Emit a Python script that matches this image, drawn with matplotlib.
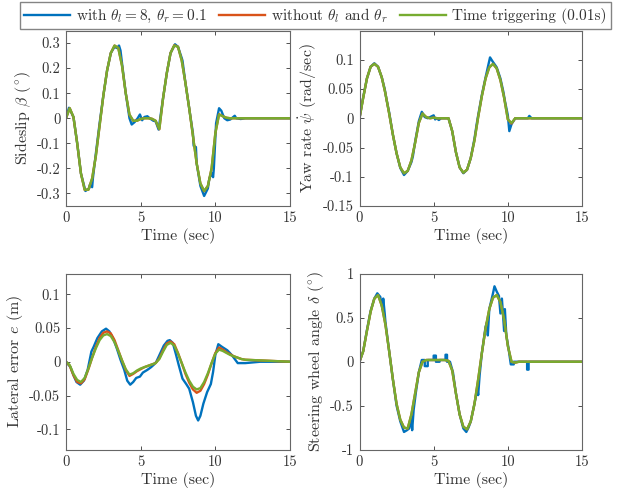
import numpy as np
import matplotlib
matplotlib.use('Agg')
import matplotlib.pyplot as plt
from matplotlib.ticker import FormatStrFormatter

plt.rcParams['font.family'] = 'serif'
plt.rcParams['font.serif'] = ['cmr10']
plt.rcParams['mathtext.fontset'] = 'cm'
plt.rcParams['axes.unicode_minus'] = False

# common time grid for the smooth curves (0..12 s every 0.25 s, then 15 s)
t = np.append(np.arange(0, 12.01, 0.25), 15)

# ---- sideslip beta (deg)
beta_time = [0, 0.04, 0.005, -0.1, -0.22, -0.285, -0.285, -0.24, -0.15, -0.03, 0.09, 0.19,
             0.26, 0.29, 0.28, 0.21, 0.1, 0.015, -0.01, -0.01, -0.003, 0, 0, -0.002,
             -0.01, -0.043, 0.08, 0.18, 0.26, 0.29, 0.285, 0.23, 0.14, 0.04, -0.07, -0.18,
             -0.26, -0.29, -0.27, -0.2, -0.06, 0.015, 0.008, 0.002, 0, 0, 0, 0, 0, 0]
beta_nothr = [0, 0.04, 0.004, -0.1, -0.22, -0.286, -0.285, -0.24, -0.15, -0.03, 0.09, 0.19,
              0.26, 0.29, 0.281, 0.21, 0.1, 0.014, -0.01, -0.01, -0.003, 0, 0, -0.002,
              -0.01, -0.044, 0.08, 0.18, 0.26, 0.291, 0.285, 0.23, 0.14, 0.04, -0.07, -0.18,
              -0.26, -0.291, -0.27, -0.2, -0.06, 0.016, 0.008, 0.002, 0, 0, 0, 0, 0, 0]
t_beta_evt = [0, 0.2, 0.5, 0.75, 1, 1.3, 1.55, 1.6, 1.75, 1.8, 2, 2.25, 2.5, 2.75, 3, 3.25,
              3.4, 3.55, 3.65, 3.75, 4, 4.25, 4.4, 4.6, 4.8, 4.95, 5.1, 5.25, 5.45, 5.6,
              5.85, 6.0, 6.2, 6.5, 6.75, 7.0, 7.3, 7.5, 7.75, 7.8, 8.0, 8.25, 8.5, 8.55,
              8.7, 8.75, 9.0, 9.25, 9.5, 9.6, 9.75, 9.85, 9.9, 10.05, 10.25, 10.4, 10.6,
              10.8, 11.0, 11.3, 11.4, 11.7, 12, 15]
beta_evt = [0, 0.042, 0.005, -0.1, -0.22, -0.29, -0.28, -0.265, -0.275, -0.24, -0.14, -0.02,
            0.09, 0.19, 0.26, 0.285, 0.28, 0.29, 0.27, 0.22, 0.1, 0.0, -0.025, -0.015, 0.0,
            0.015, -0.008, 0.005, 0.008, 0.0, -0.01, -0.012, -0.045, 0.08, 0.18, 0.26,
            0.295, 0.285, 0.24, 0.23, 0.14, 0.04, -0.06, -0.11, -0.115, -0.18, -0.27, -0.31,
            -0.28, -0.24, -0.22, -0.235, -0.2, -0.02, 0.04, 0.03, 0.0, -0.008, -0.005, 0.01,
            0.0, -0.003, 0, 0]

# ---- yaw rate (rad/s)
yaw_time = [0, 0.035, 0.068, 0.088, 0.093, 0.088, 0.07, 0.042, 0.008, -0.028, -0.06, -0.084,
            -0.094, -0.09, -0.072, -0.042, -0.008, 0.008, 0.002, 0, 0.001, 0, 0, 0, 0,
            -0.022, -0.058, -0.084, -0.093, -0.088, -0.068, -0.038, 0.002, 0.038, 0.068,
            0.087, 0.093, 0.085, 0.065, 0.035, -0.002, -0.008, 0, 0, 0, 0, 0, 0, 0, 0]
yaw_nothr = [0, 0.035, 0.068, 0.088, 0.093, 0.088, 0.07, 0.042, 0.008, -0.028, -0.06, -0.084,
             -0.094, -0.09, -0.072, -0.042, -0.008, 0.008, 0.002, 0, 0.001, 0, 0, 0, 0,
             -0.022, -0.058, -0.084, -0.093, -0.088, -0.068, -0.038, 0.002, 0.038, 0.068,
             0.087, 0.093, 0.085, 0.065, 0.035, -0.002, -0.009, 0, 0, 0, 0, 0, 0, 0, 0]
t_yaw_evt = [0, 0.25, 0.5, 0.75, 1, 1.25, 1.5, 1.7, 1.8, 2.0, 2.25, 2.5, 2.75, 3.0, 3.25, 3.5,
             3.6, 3.75, 4.0, 4.2, 4.4, 4.6, 5.0, 5.1, 5.2, 5.35, 5.5, 6.0, 6.25, 6.5, 6.75,
             7.0, 7.25, 7.5, 7.75, 7.9, 8.0, 8.25, 8.5, 8.8, 8.95, 9.25, 9.5, 9.7, 9.8,
             10.0, 10.1, 10.25, 10.5, 11.35, 11.45, 11.6, 15]
yaw_evt = [0, 0.036, 0.068, 0.088, 0.094, 0.088, 0.07, 0.05, 0.035, 0.01, -0.028, -0.06,
           -0.085, -0.097, -0.09, -0.075, -0.065, -0.04, -0.005, 0.011, 0.002, 0.0, 0.005,
           -0.002, 0.0, -0.003, 0.0, 0.0, -0.022, -0.058, -0.084, -0.094, -0.088, -0.068,
           -0.035, -0.01, 0.005, 0.04, 0.07, 0.104, 0.098, 0.087, 0.068, 0.045, 0.03,
           0.005, -0.022, -0.01, 0.0, 0.0, 0.004, 0.0, 0]

# ---- lateral error e (m)
err_time = [0, -0.005, -0.018, -0.027, -0.03, -0.024, -0.01, 0.006, 0.02, 0.032, 0.039,
            0.041, 0.038, 0.029, 0.016, 0.002, -0.011, -0.019, -0.017, -0.013, -0.01,
            -0.008, -0.006, -0.004, -0.002, 0.004, 0.015, 0.025, 0.028, 0.024, 0.012,
            -0.002, -0.016, -0.028, -0.037, -0.041, -0.039, -0.03, -0.017, -0.002, 0.012,
            0.018, 0.016, 0.013, 0.01, 0.008, 0.006, 0.004, 0.003, 0]
err_nothr = [0, -0.006, -0.02, -0.03, -0.032, -0.026, -0.011, 0.006, 0.022, 0.035, 0.043,
             0.045, 0.042, 0.032, 0.017, 0.002, -0.012, -0.021, -0.018, -0.014, -0.011,
             -0.008, -0.006, -0.004, -0.002, 0.005, 0.017, 0.027, 0.03, 0.026, 0.013,
             -0.002, -0.018, -0.031, -0.041, -0.046, -0.043, -0.033, -0.019, -0.002, 0.013,
             0.021, 0.018, 0.014, 0.011, 0.008, 0.006, 0.004, 0.003, 0]
t_err_evt = [0, 0.3, 0.5, 0.7, 0.95, 1.2, 1.45, 1.7, 1.85, 2.1, 2.4, 2.68, 2.9, 3.15, 3.4,
             3.65, 3.9, 4.1, 4.3, 4.5, 4.7, 4.95, 5.15, 5.45, 5.7, 5.9, 6.05, 6.3, 6.55,
             6.8, 6.95, 7.15, 7.35, 7.55, 7.8, 8.05, 8.25, 8.5, 8.7, 8.85, 9.0, 9.2, 9.45,
             9.7, 9.85, 10.0, 10.2, 10.45, 10.8, 11.1, 11.3, 11.5, 12.0, 12.5, 13, 15]
err_evt = [0, -0.008, -0.02, -0.03, -0.034, -0.028, -0.012, 0.015, 0.022, 0.035, 0.045,
           0.049, 0.045, 0.035, 0.02, 0.003, -0.012, -0.028, -0.034, -0.03, -0.024, -0.022,
           -0.016, -0.012, -0.008, -0.004, 0.0, 0.012, 0.024, 0.031, 0.032, 0.028, 0.012,
           -0.005, -0.025, -0.033, -0.04, -0.06, -0.08, -0.087, -0.08, -0.062, -0.045,
           -0.033, -0.015, 0.01, 0.026, 0.022, 0.017, 0.01, 0.004, -0.002, -0.002, -0.001,
           0, 0]

# ---- steering wheel angle delta (deg)
steer_time = [0, 0.12, 0.35, 0.57, 0.72, 0.76, 0.64, 0.42, 0.12, -0.2, -0.48, -0.66, -0.75,
              -0.76, -0.6, -0.36, -0.12, 0.0, 0.02, 0.02, 0.02, 0.02, 0.02, 0.02, 0.01,
              -0.1, -0.36, -0.6, -0.74, -0.77, -0.68, -0.48, -0.2, 0.1, 0.38, 0.6, 0.73,
              0.76, 0.68, 0.48, 0.18, 0.0, -0.01, 0, 0, 0, 0, 0, 0, 0]
steer_nothr = [0, 0.12, 0.35, 0.57, 0.72, 0.76, 0.64, 0.42, 0.12, -0.2, -0.48, -0.66, -0.75,
               -0.76, -0.6, -0.36, -0.12, 0.0, 0.02, 0.02, 0.02, 0.02, 0.02, 0.02, 0.01,
               -0.1, -0.36, -0.6, -0.74, -0.77, -0.68, -0.48, -0.2, 0.1, 0.38, 0.6, 0.73,
               0.76, 0.68, 0.48, 0.18, 0.0, -0.01, 0, 0, 0, 0, 0, 0, 0]
t_steer_evt = [0, 0.25, 0.5, 0.75, 1.0, 1.2, 1.4, 1.55, 1.6, 1.7, 1.75, 2.0, 2.25, 2.5, 2.75,
               3.0, 3.2, 3.35, 3.5, 3.55, 3.65, 3.8, 4.0, 4.2, 4.4, 4.4, 4.6, 4.6, 5.0, 5.0,
               5.15, 5.15, 5.4, 5.4, 5.8, 5.8, 5.9, 5.9, 6.1, 6.3, 6.5, 6.75, 7.0, 7.2,
               7.35, 7.5, 7.75, 7.95, 8.0, 8.1, 8.25, 8.5, 8.6, 8.65, 8.75, 9.0, 9.1, 9.25,
               9.4, 9.5, 9.6, 9.75, 9.8, 9.9, 10.05, 10.2, 10.4, 10.4, 11.3, 11.3, 11.4,
               11.4, 15]
steer_evt = [0, 0.12, 0.36, 0.58, 0.72, 0.78, 0.74, 0.6, 0.72, 0.55, 0.45, 0.12, -0.2, -0.5,
             -0.68, -0.8, -0.78, -0.76, -0.65, -0.78, -0.55, -0.35, -0.12, 0.02, 0.02, -0.05,
             -0.05, 0.02, 0.02, 0.07, 0.07, 0.0, 0.0, 0.02, 0.02, 0.08, 0.08, 0.0, 0.0,
             -0.12, -0.36, -0.6, -0.76, -0.8, -0.75, -0.68, -0.48, -0.3, -0.38, -0.15, 0.1,
             0.4, 0.45, 0.3, 0.6, 0.78, 0.86, 0.8, 0.75, 0.55, 0.72, 0.35, 0.6, 0.3, 0.15,
             -0.03, -0.03, 0.0, 0.0, -0.09, -0.09, 0.0, 0]

labels = [r'with $\theta_l=8$, $\theta_r=0.1$', r'without $\theta_l$ and $\theta_r$',
          'Time triggering (0.01s)']
c_blue, c_red, c_green = '#0072BD', '#D95319', '#77AC30'
txt = '#333333'

W, H = 625, 493
fig = plt.figure(figsize=(W / 100, H / 100), dpi=100)

panels = [
    # (left, top, right, bottom) in px, data, ylabel, ylim, yticks
    ((66, 30.5, 290, 206), (t_beta_evt, beta_evt, beta_nothr, beta_time),
     r'Sideslip $\beta$ $(^{\!\circ\!})$', (-0.35, 0.35), [-0.3, -0.2, -0.1, 0, 0.1, 0.2, 0.3]),
    ((359.5, 30.5, 582, 206), (t_yaw_evt, yaw_evt, yaw_nothr, yaw_time),
     r'Yaw rate $\dot{\psi}$ (rad/sec)', (-0.15, 0.15), [-0.15, -0.1, -0.05, 0, 0.05, 0.1]),
    ((66, 274, 290, 449.5), (t_err_evt, err_evt, err_nothr, err_time),
     r'Lateral error $e$ (m)', (-0.13, 0.13), [-0.1, -0.05, 0, 0.05, 0.1]),
    ((359.5, 274, 582, 449.5), (t_steer_evt, steer_evt, steer_nothr, steer_time),
     r'Steering wheel angle $\delta$ $(^{\!\circ\!})$', (-1, 1), [-1, -0.5, 0, 0.5, 1]),
]

for (l, tp, r, b), (te, ve, vn, vt), ylab, ylim, yt in panels:
    ax = fig.add_axes([l / W, 1 - b / H, (r - l) / W, (b - tp) / H])
    h1, = ax.plot(te, ve, color=c_blue, lw=1.7)
    h2, = ax.plot(t, vn, color=c_red, lw=1.7)
    h3, = ax.plot(t, vt, color=c_green, lw=1.7)
    ax.set_xlim(0, 15)
    ax.set_ylim(*ylim)
    ax.set_xticks([0, 5, 10, 15])
    ax.set_yticks(yt)
    ax.yaxis.set_major_formatter(FormatStrFormatter('%g'))
    ax.set_xlabel('Time (sec)', fontsize=11.5, color=txt, labelpad=2)
    ax.set_ylabel(ylab, fontsize=11.5, color=txt, labelpad=3)
    ax.tick_params(direction='in', top=True, right=True, length=3, width=0.6,
                   labelsize=10.5, colors=txt, pad=4)
    for sp in ax.spines.values():
        sp.set_color('#666666')
        sp.set_linewidth(0.8)

fig.legend([h1, h2, h3], labels, loc='upper center', bbox_to_anchor=(0.5048, 0.995),
           ncol=3, fontsize=11, frameon=True, fancybox=False, edgecolor='#666666',
           handlelength=3.0, columnspacing=0.8, handletextpad=0.4, borderpad=0.25,
           borderaxespad=0.0, labelcolor=txt)

plt.savefig('out.png', dpi=100)
